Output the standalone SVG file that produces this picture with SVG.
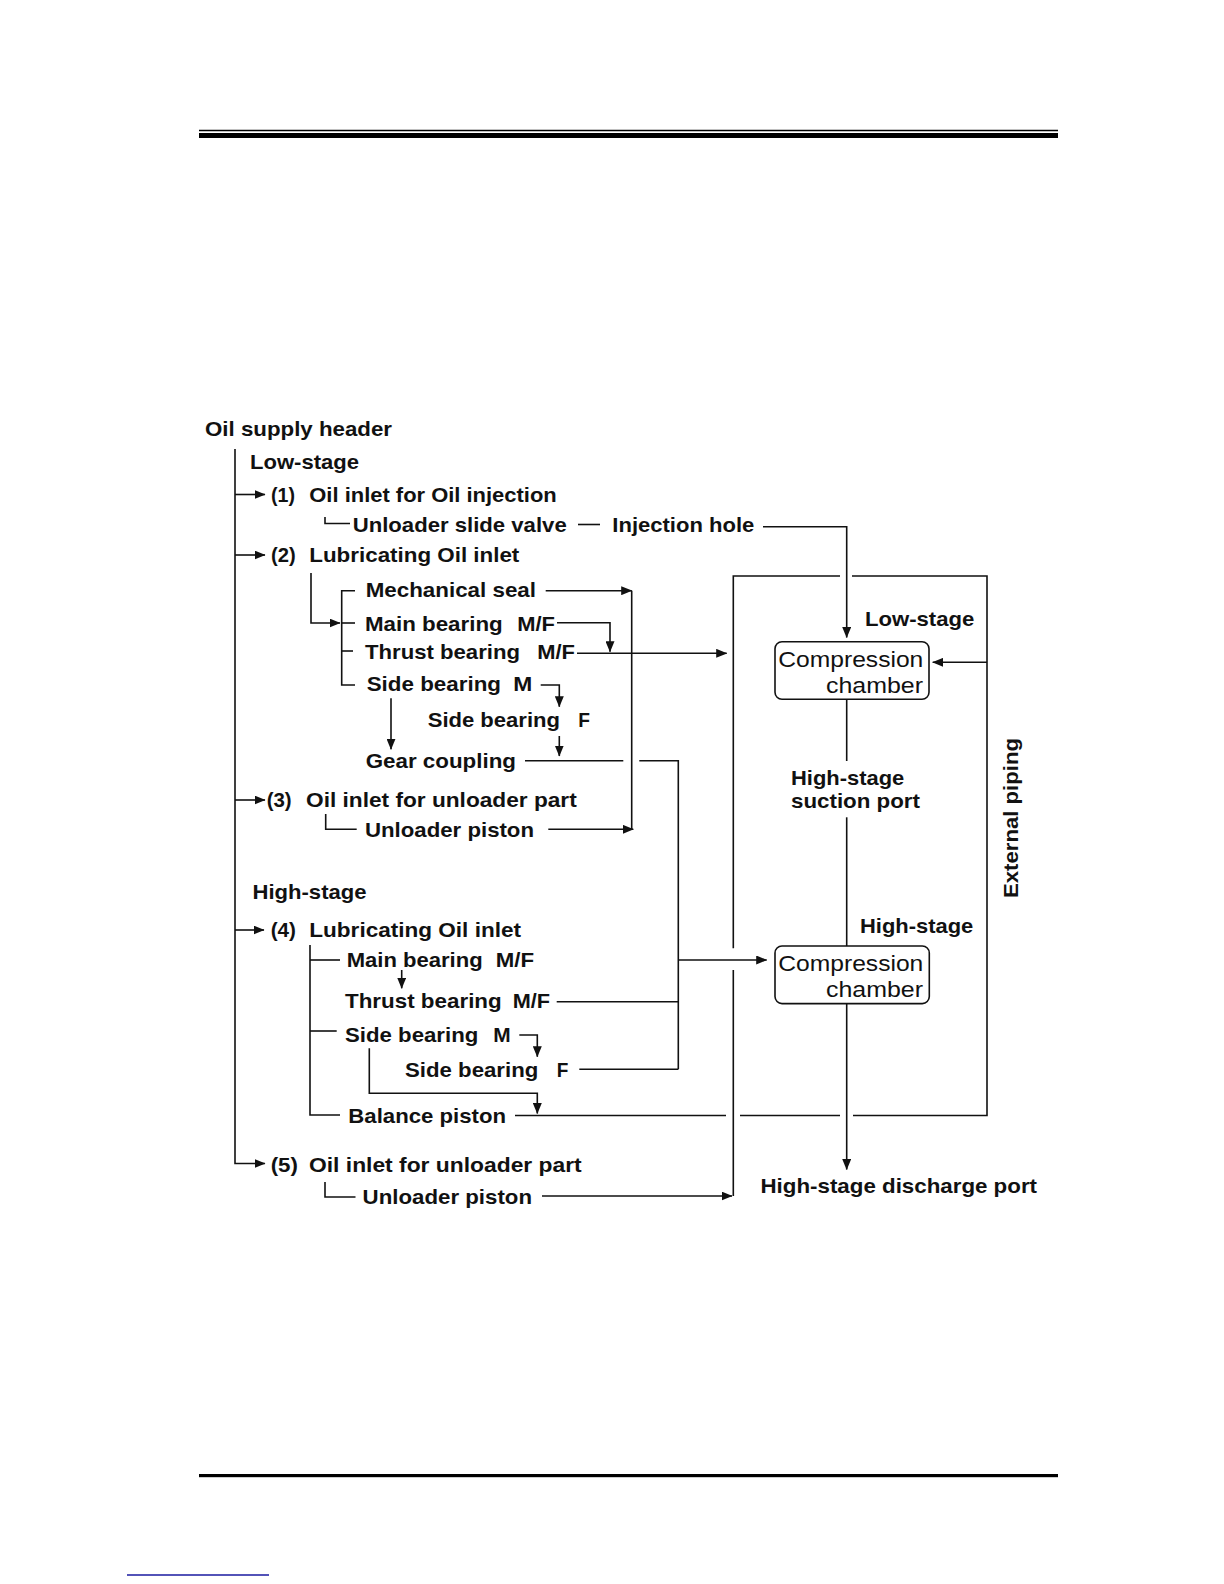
<svg xmlns="http://www.w3.org/2000/svg" width="1224" height="1584" viewBox="0 0 1224 1584">
<style>
.t{font-family:"Liberation Sans",Arial,sans-serif;font-weight:bold;font-size:21px;fill:#111}
.c{font-family:"Liberation Sans",Arial,sans-serif;font-size:22px;fill:#111}
.ln{fill:none;stroke:#111;stroke-width:1.6}
.ar{marker-end:url(#ah)}
.box{fill:#fff;stroke:#111;stroke-width:1.6}
</style>
<defs>
<marker id="ah" markerUnits="userSpaceOnUse" markerWidth="11" markerHeight="9" refX="10.5" refY="4.5" orient="auto">
<path d="M0,0 L11,4.5 L0,9 z" fill="#111"/>
</marker>
</defs>
<rect width="1224" height="1584" fill="#fff"/>
<g id="page">
<line x1="199" y1="130.5" x2="1058" y2="130.5" stroke="#000" stroke-width="1.4"/>
<rect x="199" y="133" width="859" height="5" fill="#000"/>
<rect x="199" y="1474" width="859" height="3.2" fill="#000"/>
<line x1="127" y1="1575" x2="269" y2="1575" stroke="#1a1aa0" stroke-width="1.3"/>
</g>
<g id="connectors" class="ln">
<path d="M235,449 V1163.5 H265" class="ar"/>
<path d="M235,494.5 H265" class="ar"/>
<path d="M235,555 H265" class="ar"/>
<path d="M235,800 H265" class="ar"/>
<path d="M235,930 H264" class="ar"/>
<path d="M325,517 V523.5 H350"/>
<path d="M578,524.5 H600"/>
<path d="M763,526.7 H846.7 V637.5" class="ar"/>
<path d="M311,573 V623 H340" class="ar"/>
<path d="M355,590.7 H341.7 V685 H355"/>
<path d="M341.7,651 H353"/>
<path d="M341.7,623 H355"/>
<path d="M545.7,590.7 H631.7" class="ar"/>
<path d="M631.7,590.7 V829.3"/>
<path d="M557,622.7 H610 V651.7" class="ar"/>
<path d="M577,653.3 H726.7" class="ar"/>
<path d="M540.7,685 H559.3 V706.7" class="ar"/>
<path d="M559.3,736 V756" class="ar"/>
<path d="M391,698.3 V749.3" class="ar"/>
<path d="M525,760.7 H623.3"/>
<path d="M639.3,760.7 H678.3 V1069.3"/>
<path d="M325.7,814 V829.3 H356.7"/>
<path d="M548.3,829.3 H633.3" class="ar"/>
<path d="M310,945 V1115 H340"/>
<path d="M310,960 H340"/>
<path d="M310,1031 H336.7"/>
<path d="M401.7,970 V988.3" class="ar"/>
<path d="M556.7,1001.7 H678.3"/>
<path d="M519.3,1035 H537.3 V1056.7" class="ar"/>
<path d="M579.3,1069.3 H678.3"/>
<path d="M369.3,1048.3 V1093.3 H537.3 V1113.5" class="ar"/>
<path d="M515,1115.5 H726"/>
<path d="M740,1115.5 H840"/>
<path d="M853,1115.5 H987 V576 H852"/>
<path d="M840,576 H733.3 V948.3"/>
<path d="M733.3,970 V1196"/>
<path d="M678.3,960 H766.7" class="ar"/>
<path d="M987,662.3 H932.7" class="ar"/>
<path d="M846.7,699.3 V761"/>
<path d="M846.7,817.3 V946"/>
<path d="M846.7,1003.6 V1169.5" class="ar"/>
<path d="M325,1182 V1197 H355.5"/>
<path d="M542,1196 H732" class="ar"/>
</g>
<g id="oil-supply-header"><text class="t" x="205" y="435.5" textLength="187" lengthAdjust="spacingAndGlyphs">Oil supply header</text></g>
<g id="low-stage-title"><text class="t" x="250" y="469" textLength="109" lengthAdjust="spacingAndGlyphs">Low-stage</text></g>
<g id="n1">
<text class="t" x="271" y="501.5" textLength="24" lengthAdjust="spacingAndGlyphs">(1)</text>
<text class="t" x="309.3" y="501.5" textLength="247.4" lengthAdjust="spacingAndGlyphs">Oil inlet for Oil injection</text>
</g>
<g id="unloader-slide-valve"><text class="t" x="352.7" y="532" textLength="214" lengthAdjust="spacingAndGlyphs">Unloader slide valve</text></g>
<g id="injection-hole"><text class="t" x="612.3" y="532.3" textLength="142" lengthAdjust="spacingAndGlyphs">Injection hole</text></g>
<g id="n2">
<text class="t" x="271" y="562" textLength="24.7" lengthAdjust="spacingAndGlyphs">(2)</text>
<text class="t" x="309.3" y="562" textLength="210" lengthAdjust="spacingAndGlyphs">Lubricating Oil inlet</text>
</g>
<g id="mechanical-seal"><text class="t" x="365.7" y="596.7" textLength="170.3" lengthAdjust="spacingAndGlyphs">Mechanical seal</text></g>
<g id="ls-main-bearing">
<text class="t" x="365" y="630.5" textLength="137.7" lengthAdjust="spacingAndGlyphs">Main bearing</text>
<text class="t" x="517.3" y="630.5" textLength="37.7" lengthAdjust="spacingAndGlyphs">M/F</text>
</g>
<g id="ls-thrust-bearing">
<text class="t" x="365" y="659" textLength="155" lengthAdjust="spacingAndGlyphs">Thrust bearing</text>
<text class="t" x="537.3" y="659" textLength="37.7" lengthAdjust="spacingAndGlyphs">M/F</text>
</g>
<g id="ls-side-bearing-m">
<text class="t" x="366.7" y="690.5" textLength="134.3" lengthAdjust="spacingAndGlyphs">Side bearing</text>
<text class="t" x="513.3" y="690.5" textLength="19" lengthAdjust="spacingAndGlyphs">M</text>
</g>
<g id="ls-side-bearing-f">
<text class="t" x="427.7" y="726.5" textLength="132.3" lengthAdjust="spacingAndGlyphs">Side bearing</text>
<text class="t" x="578.3" y="726.5" textLength="11.7" lengthAdjust="spacingAndGlyphs">F</text>
</g>
<g id="gear-coupling"><text class="t" x="365.7" y="767.5" textLength="150.3" lengthAdjust="spacingAndGlyphs">Gear coupling</text></g>
<g id="n3">
<text class="t" x="266.7" y="806.5" textLength="25" lengthAdjust="spacingAndGlyphs">(3)</text>
<text class="t" x="306" y="806.5" textLength="270.7" lengthAdjust="spacingAndGlyphs">Oil inlet for unloader part</text>
</g>
<g id="ls-unloader-piston"><text class="t" x="365" y="836.5" textLength="169" lengthAdjust="spacingAndGlyphs">Unloader piston</text></g>
<g id="high-stage-title"><text class="t" x="252.5" y="899" textLength="114" lengthAdjust="spacingAndGlyphs">High-stage</text></g>
<g id="n4">
<text class="t" x="270.7" y="936.5" textLength="25.3" lengthAdjust="spacingAndGlyphs">(4)</text>
<text class="t" x="309.3" y="936.5" textLength="211.7" lengthAdjust="spacingAndGlyphs">Lubricating Oil inlet</text>
</g>
<g id="hs-main-bearing">
<text class="t" x="346.7" y="966.5" textLength="136" lengthAdjust="spacingAndGlyphs">Main bearing</text>
<text class="t" x="495.7" y="966.5" textLength="38.3" lengthAdjust="spacingAndGlyphs">M/F</text>
</g>
<g id="hs-thrust-bearing">
<text class="t" x="345" y="1008" textLength="156.7" lengthAdjust="spacingAndGlyphs">Thrust bearing</text>
<text class="t" x="512.7" y="1008" textLength="37.3" lengthAdjust="spacingAndGlyphs">M/F</text>
</g>
<g id="hs-side-bearing-m">
<text class="t" x="345" y="1041.5" textLength="133.3" lengthAdjust="spacingAndGlyphs">Side bearing</text>
<text class="t" x="493.3" y="1041.5" textLength="17.4" lengthAdjust="spacingAndGlyphs">M</text>
</g>
<g id="hs-side-bearing-f">
<text class="t" x="405" y="1076.5" textLength="133.3" lengthAdjust="spacingAndGlyphs">Side bearing</text>
<text class="t" x="556.7" y="1076.5" textLength="11.6" lengthAdjust="spacingAndGlyphs">F</text>
</g>
<g id="balance-piston"><text class="t" x="348.3" y="1122.5" textLength="157.7" lengthAdjust="spacingAndGlyphs">Balance piston</text></g>
<g id="n5">
<text class="t" x="270.7" y="1171.5" textLength="27.3" lengthAdjust="spacingAndGlyphs">(5)</text>
<text class="t" x="309" y="1171.5" textLength="272.7" lengthAdjust="spacingAndGlyphs">Oil inlet for unloader part</text>
</g>
<g id="hs-unloader-piston"><text class="t" x="362.6" y="1204" textLength="169.4" lengthAdjust="spacingAndGlyphs">Unloader piston</text></g>
<g id="low-compression-chamber">
<text class="t" x="865" y="626" textLength="109.3" lengthAdjust="spacingAndGlyphs">Low-stage</text>
<rect class="box" x="775" y="641.7" width="154" height="57.6" rx="7"/>
<text class="c" x="778.3" y="667" textLength="145" lengthAdjust="spacingAndGlyphs">Compression</text>
<text class="c" x="826" y="692.6" textLength="97" lengthAdjust="spacingAndGlyphs">chamber</text>
</g>
<g id="high-stage-suction-port">
<text class="t" x="791" y="785" textLength="113.3" lengthAdjust="spacingAndGlyphs">High-stage</text>
<text class="t" x="791" y="808.3" textLength="129" lengthAdjust="spacingAndGlyphs">suction port</text>
</g>
<g id="high-compression-chamber">
<text class="t" x="860" y="933" textLength="113.3" lengthAdjust="spacingAndGlyphs">High-stage</text>
<rect class="box" x="775" y="946" width="154.3" height="57.6" rx="7"/>
<text class="c" x="778.3" y="971.3" textLength="145" lengthAdjust="spacingAndGlyphs">Compression</text>
<text class="c" x="826" y="996.9" textLength="97" lengthAdjust="spacingAndGlyphs">chamber</text>
</g>
<g id="external-piping"><text class="t" transform="translate(1018,898) rotate(-90)" x="0" y="0" textLength="160" lengthAdjust="spacingAndGlyphs">External piping</text></g>
<g id="high-stage-discharge-port"><text class="t" x="760.5" y="1193" textLength="276.5" lengthAdjust="spacingAndGlyphs">High-stage discharge port</text></g>
</svg>
